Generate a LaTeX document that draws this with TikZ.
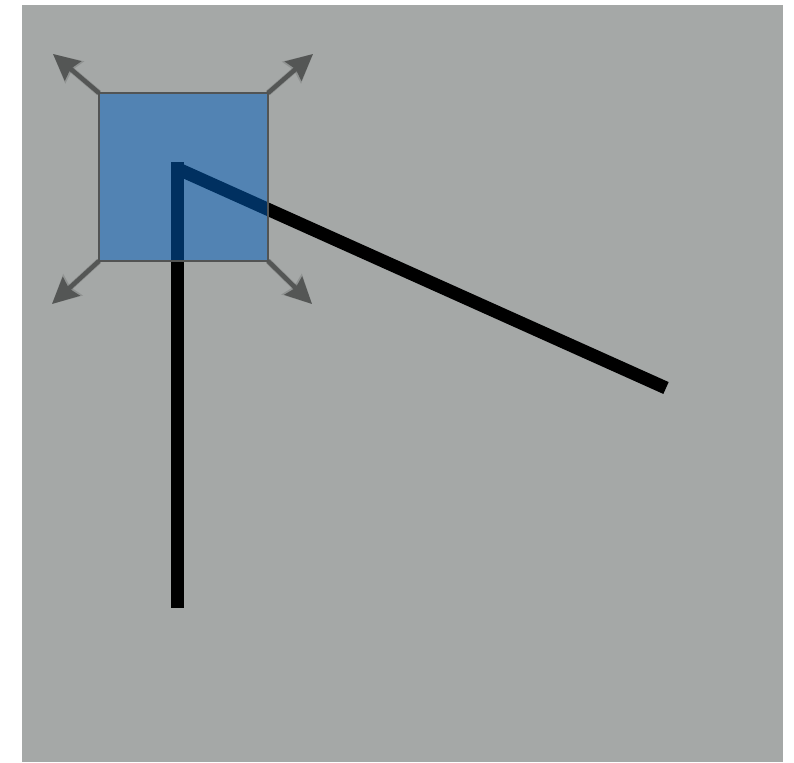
\documentclass[tikz,border=0pt]{standalone}
\usetikzlibrary{arrows.meta}
\definecolor{bggray}{RGB}{165,168,167}
\definecolor{arrgray}{RGB}{84,86,85}
\definecolor{sqblue}{RGB}{0,96,192}
\definecolor{sqborder}{RGB}{82,84,84}
\tikzset{
  handle/.style={draw=arrgray, line width=4.5pt, -{Stealth[length=26pt,width=25pt,inset=3pt]}},
  handleshadow/.style={draw=black, opacity=0.12, line width=6pt, -{Stealth[length=28pt,width=28pt,inset=3pt]}},
  thickline/.style={draw=black, line width=13pt, line cap=butt},
  selbox/.style={draw=sqborder, line width=2pt, fill=sqblue, fill opacity=0.5, minimum width=169pt, minimum height=168pt, inner sep=0pt, outer sep=0pt}
}
\begin{document}
\begin{tikzpicture}[x=1pt,y=-1pt]
\useasboundingbox (0,0) rectangle (794,762);
\fill[white] (0,0) rectangle (794,762);
\fill[bggray] (22,5) rectangle (783,762);
% line coordinates
\coordinate (lbot) at (177,607.5);
\coordinate (ltop) at (177,162.3);
\coordinate (lmid) at (177,168.5);
\coordinate (lend) at (666,388);
\draw[thickline] (lbot) -- (ltop);
\draw[thickline] (lmid) -- (lend);
% selection square
\node[selbox] (sq) at (183.5,177) {};
% handle tips
\coordinate (tnw) at (53,54);
\coordinate (tne) at (313,54);
\coordinate (tsw) at (52,304);
\coordinate (tse) at (312,304);
\begin{scope}[shift={(1,4)}]
\draw[handleshadow] (sq.north west) -- (tnw);
\draw[handleshadow] (sq.north east) -- (tne);
\draw[handleshadow] (sq.south west) -- (tsw);
\draw[handleshadow] (sq.south east) -- (tse);
\end{scope}
\draw[handle] (sq.north west) -- (tnw);
\draw[handle] (sq.north east) -- (tne);
\draw[handle] (sq.south west) -- (tsw);
\draw[handle] (sq.south east) -- (tse);
\end{tikzpicture}
\end{document}
